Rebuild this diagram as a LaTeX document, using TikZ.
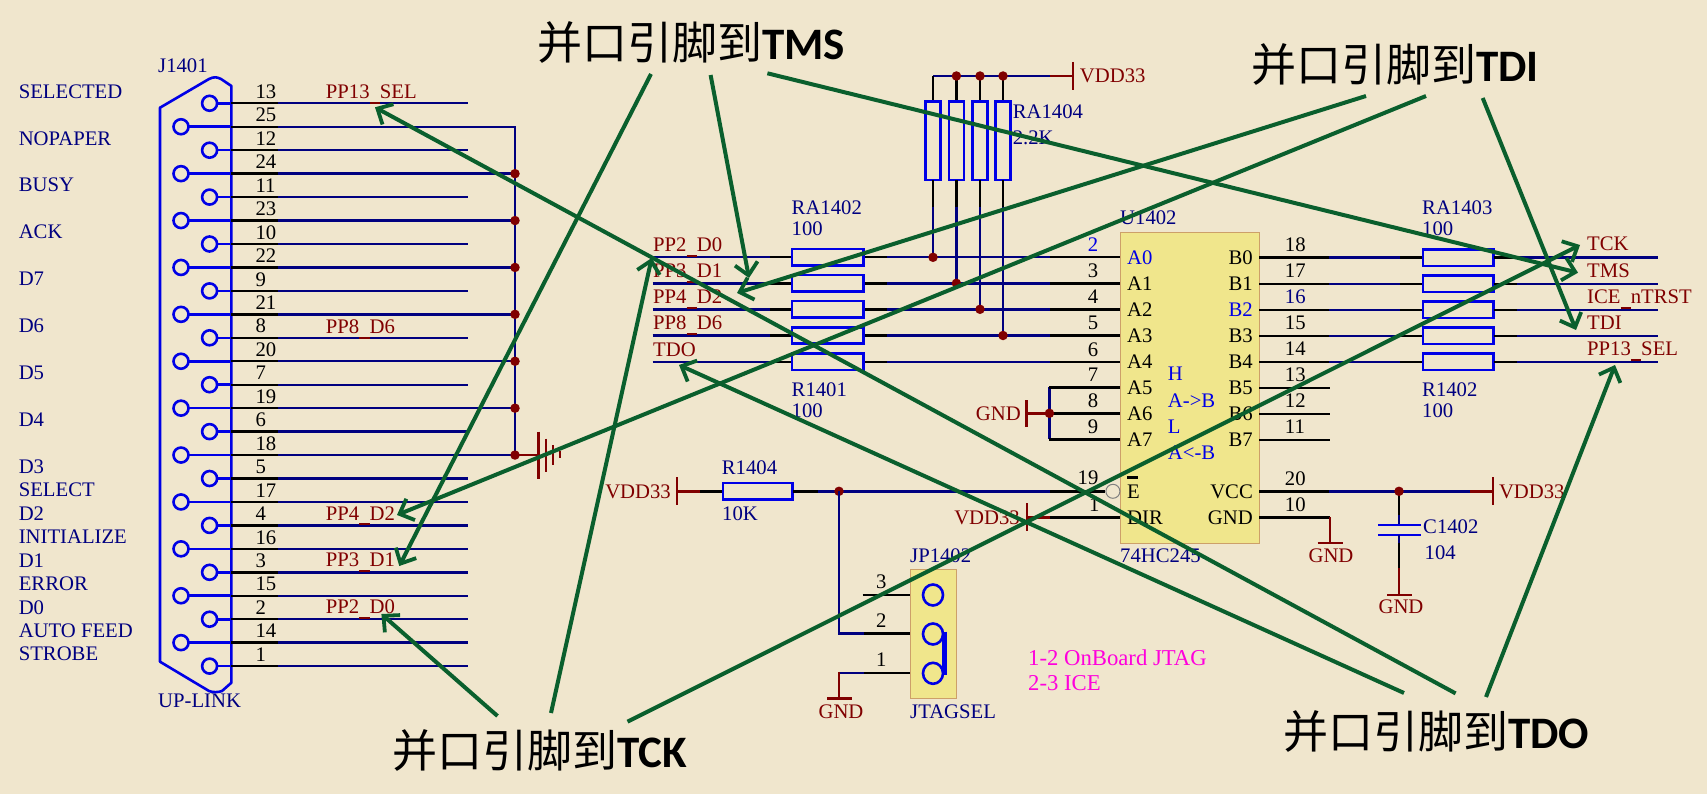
\documentclass[tikz,border=0pt]{standalone}
\usepackage{fontspec}
\setmainfont{Liberation Serif}
\newfontfamily\cjkfont{Noto Sans CJK SC}
\newfontfamily\latbold{Carlito}[BoldFont=Carlito Bold]
\usetikzlibrary{arrows.meta}
\definecolor{bgc}{RGB}{240,230,205}
\definecolor{nav}{RGB}{0,0,128}
\definecolor{blu}{RGB}{0,0,230}
\definecolor{mar}{RGB}{128,0,0}
\definecolor{grn}{RGB}{10,95,45}
\definecolor{icf}{RGB}{240,230,140}
\definecolor{icb}{RGB}{205,160,105}
\definecolor{mag}{RGB}{255,0,220}
\tikzset{
  x=1pt,y=-1pt,
  lbl/.style={inner sep=0pt,anchor=west,text height=13.7pt,text depth=0pt,font=\fontsize{20.7}{24}\selectfont},
  lblr/.style={lbl,anchor=east},
  lblc/.style={lbl,anchor=center},
  navt/.style={lbl,text=nav},
  nett/.style={lbl,text=mar},
  pint/.style={lbl,text=black},
  wnav/.style={draw=nav,line width=2.4pt},
  wblk/.style={draw=black,line width=2.4pt},
  wmar/.style={draw=mar,line width=2.4pt},
  sym/.style={draw=blu,line width=2.6pt},
  res/.style={draw=blu,line width=2.8pt},
  dot/.style={circle,fill=mar,inner sep=0pt,minimum size=9.5pt},
  pinc/.style={circle,draw=blu,line width=2.6pt,inner sep=0pt,minimum size=15pt},
  callout/.style={inner sep=0pt,anchor=west,font=\fontsize{45}{50}\selectfont},
  arw/.style={draw=grn,line width=4pt,-{Straight Barb[length=12pt,width=23pt,line width=3.8pt]}},
}
\newcommand{\bigtxt}[1]{{\cjkfont 并口引脚到}{\latbold\bfseries #1}}
\newcommand{\us}{\rule[-5pt]{10.3pt}{1.8pt}}
\begin{document}
\begin{tikzpicture}
\useasboundingbox[fill=bgc] (0,0) rectangle (1707,794);

% --- left labels
\foreach \n/\t/\yy in {a/SELECTED/91.7,b/NOPAPER/138.3,c/BUSY/185,d/ACK/232,e/D7/279,f/D6/326,g/D5/373,h/D4/420,i/D3/466.7,j/SELECT/490,k/D2/513.7,l/INITIALIZE/537,m/D1/560.7,n/ERROR/584,o/D0/607.7,p/AUTO FEED/631,q/STROBE/654}
  \node[navt] (lp\n) at (18.6,\yy) {\t};
\node[navt] (j1401) at (158,65.7) {J1401};
\node[navt] (uplink) at (158,700.7) {UP-LINK};

% --- connector body
\draw[sym,line join=round] (160,107.7) -- (209,79) .. controls (214,76.5) and (217,77) .. (221,79) -- (231.4,86) -- (231.4,682.7) -- (222,691) .. controls (218,692.5) and (213,692.5) .. (209,691) -- (160,661.7) -- cycle;

% --- connector pins: index / number / x of circle
\foreach \i/\p in {0/13,1/25,2/12,3/24,4/11,5/23,6/10,7/22,8/9,9/21,10/8,11/20,12/7,13/19,14/6,15/18,16/5,17/17,18/4,19/16,20/3,21/15,22/2,23/14,24/1}{
  \pgfmathsetmacro{\yy}{103.3+23.45*\i}
  \pgfmathsetmacro{\xc}{isodd(\i)?181:209.6}
  \draw[sym] (\xc,\yy) -- (231.4,\yy);
  \node[pinc,fill=bgc] (c\p) at (\xc,\yy) {};
  \draw[wblk] (231.4,\yy) -- (277.9,\yy);
  \draw[wnav] (277.9,\yy) -- (467.9,\yy);
  \node[pint] (n\p) at (255.4,\yy-11.7) {\p};
}
% --- bus
\draw[wnav] (277.9,127) -- (515,127) -- (515,455);
\foreach \i in {3,5,7,9,11,13,15}{
  \pgfmathsetmacro{\yy}{103.3+23.45*\i}
  \draw[wnav] (467,\yy) -- (515,\yy);
  \node[dot] at (515,\yy) {};
}
\draw[wmar] (515,455) -- (538.3,455);
\draw[wmar] (538.3,431.7) -- (538.3,479);
\draw[wmar] (545.7,438.7) -- (545.7,472);
\draw[wmar] (552.7,445) -- (552.7,465);
\draw[wmar] (560,451) -- (560,458);

% --- connector net labels
\node[nett] (l13) at (325.7,91.7) {PP13\us SEL};
\node[nett] (l8) at (325.7,326.7) {PP8\us D6};
\node[nett] (l4) at (325.7,513.3) {PP4\us D2};
\node[nett] (l3) at (325.7,560) {PP3\us D1};
\node[nett] (l2) at (325.7,607) {PP2\us D0};

% --- left resistor rows
\foreach \i/\yy/\t/\num in {0/257.3/PP2\us D0/2,1/283.3/PP3\us D1/3,2/309.3/PP4\us D2/4,3/335.5/PP8\us D6/5,4/361.7/TDO/6}{
  \draw[wnav] (652.7,\yy) -- (769.8,\yy);
  \draw[wblk] (769.8,\yy) -- (792,\yy);
  \draw[wblk] (863.5,\yy) -- (887,\yy);
  \draw[wnav] (887,\yy) -- (1050.4,\yy);
  \draw[wblk] (1050.4,\yy) -- (1120,\yy);
  \draw[res] (792,\yy-8.3) rectangle (863.5,\yy+8.3);
  \node[nett] at (653,\yy-12.5) {\t};
  \node[pint] at (1087.6,\yy-12.5) {\ifnum\i=0 \textcolor{blu}{\num}\else\num\fi};
}
\node[navt] (ra1402) at (791.5,207.7) {RA1402};
\node[navt] (ra1402v) at (791.5,229) {100};
\node[navt] (r1401) at (791.5,390) {R1401};
\node[navt] (r1401v) at (791.5,411) {100};

% --- RA1404
\draw[wnav] (933,76) -- (1050,76);
\draw[wmar] (1050,76) -- (1072.8,76);
\draw[wmar] (1072.8,62) -- (1072.8,90);
\node[nett] (vdd1) at (1079.7,76) {VDD33};
\foreach \xx/\yy in {933/257.3,956.4/283.3,980/309.3,1003/335.5}{
  \draw[wblk] (\xx,76) -- (\xx,101.7);
  \draw[res] (\xx-7.5,101.7) rectangle (\xx+7.5,180);
  \draw[wblk] (\xx,180) -- (\xx,206.7);
  \draw[wnav] (\xx,206.7) -- (\xx,\yy);
  \node[dot] at (\xx,\yy) {};
}
\foreach \xx in {956.4,980,1003} \node[dot] at (\xx,76) {};
\node[navt] (ra1404) at (1012.6,112) {RA1404};
\node[navt] (ra1404v) at (1012.6,138) {2.2K};

% --- GND on A5-A7
\draw[wnav] (1049.4,387.3) -- (1049.4,439.3);
\foreach \yy in {387.3,413.3,439.3} \draw[wblk] (1049.4,\yy) -- (1120,\yy);
\foreach \yy/\t in {387.3/7,413.3/8,439.3/9} \node[pint] at (1087.6,\yy-12.5) {\t};
\draw[wmar] (1026.3,413.3) -- (1049.4,413.3);
\draw[wmar] (1026.3,400) -- (1026.3,427);
\node[dot] at (1049.4,413.3) {};
\node[lblr,text=mar] (gnd1) at (1021,413.3) {GND};

% --- IC
\node[draw=icb,fill=icf,line width=1pt,minimum width=139pt,minimum height=311pt,inner sep=0pt,anchor=north west] (u) at (1120,231.7) {};
\node[navt] (u1402) at (1120,218) {U1402};
\node[navt] (u245) at (1120,556) {74HC245};
\foreach \yy/\t/\c in {257.5/A0/blu,283.5/A1/black,309.5/A2/black,335.5/A3/black,361.7/A4/black,387.5/A5/black,413.5/A6/black,439.5/A7/black}
  \node[lbl,text=\c] at (1127,\yy) {\t};
\foreach \yy/\t/\c in {257.7/B0/black,283.7/B1/black,309.7/B2/blu,335.7/B3/black,361.7/B4/black,387.7/B5/black,413.7/B6/black,439.7/B7/black}
  \node[lblr,text=\c] at (1253,\yy) {\t};
\node[lbl,text=blu] (h1) at (1167.7,374) {H};
\node[lbl,text=blu] (h2) at (1167.7,401) {A->B};
\node[lbl,text=blu] (h3) at (1167.7,426.7) {L};
\node[lbl,text=blu] (h4) at (1167.7,453) {A<-B};
\node[lbl] (e) at (1127,491.3) {E};
\draw[line width=2.4pt] (1127,477.5) -- (1138,477.5);
\node[lbl] (dir) at (1127,517.3) {DIR};
\node[lblr] (vcc) at (1253,491.3) {VCC};
\node[lblr] (gnd) at (1253,517.3) {GND};

% --- right rows
\foreach \yy/\n/\c in {257.7/18/black,283.7/17/black,309.7/16/nav,335.7/15/black,361.7/14/black}{
  \draw[wblk] (1259,\yy) -- (1329,\yy);
  \draw[wnav] (1329,\yy) -- (1400,\yy);
  \draw[wblk] (1400,\yy) -- (1423,\yy);
  \draw[res] (1423,\yy-8.3) rectangle (1493.7,\yy+8.3);
  \draw[wblk] (1493.7,\yy) -- (1517,\yy);
  \draw[wnav] (1517,\yy) -- (1657.5,\yy);
  \node[lbl,text=\c] at (1284.7,\yy-13) {\n};
}
\foreach \yy/\n in {387.7/13,413.7/12,439.7/11}{
  \draw[wblk] (1259,\yy) -- (1330,\yy);
  \node[pint] at (1284.7,\yy-13) {\n};
}
\node[navt] (ra1403) at (1422,208) {RA1403};
\node[navt] (ra1403v) at (1422,229) {100};
\node[navt] (r1402) at (1422,390) {R1402};
\node[navt] (r1402v) at (1422,411) {100};
\node[nett] (tck) at (1587,244) {TCK};
\node[nett] (tms) at (1587,270.7) {TMS};
\node[nett] (ice) at (1587,296.7) {ICE\us nTRST};
\node[nett] (tdi) at (1587,322.7) {TDI};
\node[nett] (pp13) at (1587,348.7) {PP13\us SEL};

% --- VCC / GND / C1402
\draw[wblk] (1259,491.3) -- (1329,491.3);
\draw[wnav] (1329,491.3) -- (1470,491.3);
\draw[wmar] (1470,491.3) -- (1493,491.3);
\draw[wmar] (1493,477) -- (1493,505);
\node[nett] (vdd2) at (1498.8,491.3) {VDD33};
\node[pint] at (1284.7,478.3) {20};
\node[pint] at (1284.7,504.3) {10};
\draw[wblk] (1259,517.3) -- (1330,517.3);
\draw[wmar] (1330,517.3) -- (1330,542.7);
\draw[wmar] (1317.6,542.7) -- (1342.7,542.7);
\node[lblc,text=mar] (gnd2) at (1331,556) {GND};
\draw[wblk] (1399,491.3) -- (1399,515);
\draw[wnav] (1399,515) -- (1399,525);
\draw[sym] (1378,525) -- (1421,525);
\draw[sym] (1378,535) -- (1421,535);
\draw[wnav] (1399,535) -- (1399,543);
\draw[wblk] (1399,543) -- (1399,568);
\draw[wmar] (1399,568) -- (1399,595);
\draw[wmar] (1387,595) -- (1411.6,595);
\node[dot] at (1399,491.3) {};
\node[lblc,text=mar] (gnd3) at (1401,607) {GND};
\node[navt] (c1402) at (1423,527) {C1402};
\node[navt] (c1402v) at (1424.5,553) {104};

% --- R1404 and E / DIR nets
\node[lblr,text=mar] (vdd3) at (671,491.3) {VDD33};
\draw[wmar] (676.7,477.3) -- (676.7,505.3);
\draw[wmar] (676.7,491.3) -- (700,491.3);
\draw[wblk] (700,491.3) -- (723,491.3);
\draw[res] (723,483) rectangle (792.8,499.6);
\draw[wblk] (792.8,491.3) -- (818,491.3);
\draw[wnav] (818,491.3) -- (1050,491.3);
\draw[wblk] (1050,491.3) -- (1105,491.3);
\node[circle,draw=gray,line width=1pt,fill=bgc,minimum size=14pt,inner sep=0pt] (bub) at (1112.9,491.3) {};
\node[dot] at (839,491.3) {};
\node[navt] (r1404) at (721.7,468) {R1404};
\node[navt] (r1404v) at (722,514) {10K};
\node[pint] (p19) at (1077.5,478) {19};
\node[pint] (p1) at (1089,505) {1};
\draw[wblk] (1050,517.3) -- (1120,517.3);
\draw[wmar] (1027,517.3) -- (1050,517.3);
\draw[wmar] (1027,503.3) -- (1027,531.3);
\node[lblr,text=mar] (vdd4) at (1020,517.3) {VDD33};

% --- Jumper
\node[draw=icb,fill=icf,line width=1pt,minimum width=45.8pt,minimum height=129pt,inner sep=0pt,anchor=north west] (jp) at (910,569.3) {};
\draw[wnav] (839,491.3) -- (839,633.3) -- (864,633.3);
\draw[wblk] (864,633.3) -- (910,633.3);
\draw[wblk] (862.6,595) -- (910,595);
\draw[wnav] (839,672.7) -- (864,672.7);
\draw[wblk] (864,672.7) -- (910,672.7);
\draw[wmar] (839,671.8) -- (839,698.3);
\draw[wmar] (827,698.3) -- (852,698.3);
\node[lblc,text=mar] (gnd4) at (841,711.7) {GND};
\foreach \yy in {595,634,673.3} \draw[sym] (933,\yy) circle[x radius=10,y radius=10.5];
\draw[draw=blu,line width=5pt] (944.4,631.7) -- (944.4,675);
\node[pint] at (876,582) {3};
\node[pint] at (876,621) {2};
\node[pint] at (876,660) {1};
\node[navt] (jp1402) at (910,556) {JP1402};
\node[navt] (jtagsel) at (910,711.7) {JTAGSEL};
\node[lbl,text=mag,font=\fontsize{22.7}{26}\selectfont] (note1) at (1028,659) {1-2 OnBoard JTAG};
\node[lbl,text=mag,font=\fontsize{22.7}{26}\selectfont] (note2) at (1028,684) {2-3 ICE};

% --- callouts
\node[callout] (cTMS) at (537,42.5) {\bigtxt{TMS}};
\node[callout] (cTDI) at (1251,64.5) {\bigtxt{TDI}};
\node[callout] (cTCK) at (392,750.5) {\bigtxt{TCK}};
\node[callout] (cTDO) at (1283,731) {\bigtxt{TDO}};

% --- arrow ends
\coordinate (sA) at (651,74);     \coordinate (tA) at (399.3,566);
\coordinate (sB) at (710.6,75);   \coordinate (tB) at (749,278);
\coordinate (sC) at (767.4,73.3); \coordinate (tC) at (1578,272.7);
\coordinate (sD) at (1366,96);    \coordinate (tD) at (737,293);
\coordinate (sE) at (1426,96);    \coordinate (tE) at (397,515);
\coordinate (sF) at (1482.7,98);  \coordinate (tF) at (1576,330);
\coordinate (sG) at (497.5,716);  \coordinate (tG) at (381.4,614);
\coordinate (sH) at (551,713);    \coordinate (tH) at (651.7,258);
\coordinate (sI) at (627.5,721.7);\coordinate (tI) at (1580,245);
\coordinate (sJ) at (1455.6,693.4);\coordinate (tJ) at (375,107.3);
\coordinate (sK) at (1404,693);   \coordinate (tK) at (679,365);
\coordinate (sL) at (1486,697);   \coordinate (tL) at (1615,365);
\foreach \k in {A,B,C,D,E,F,G,H,I,J,K,L} \draw[arw] (s\k) -- (t\k);
\end{tikzpicture}
\end{document}
